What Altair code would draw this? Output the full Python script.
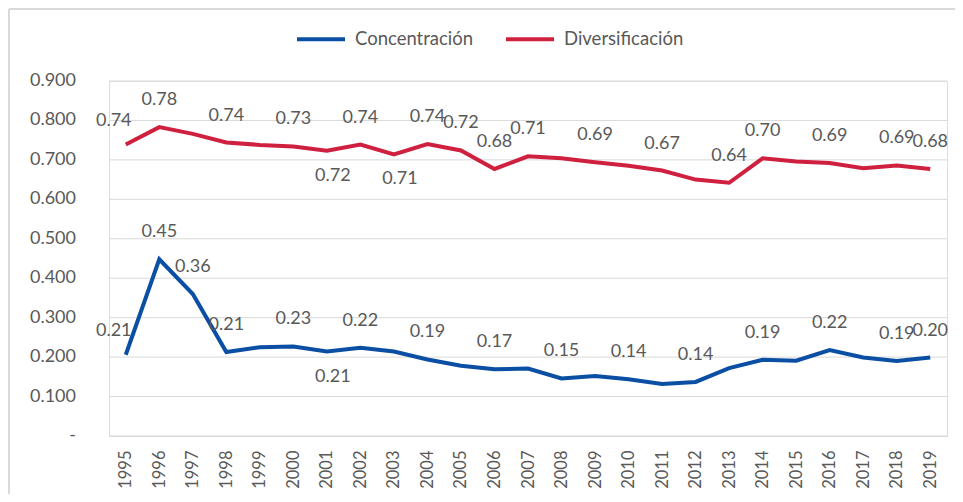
import altair as alt
import pandas as pd

years = ["1995", "1996", "1997", "1998", "1999", "2000", "2001", "2002", "2003",
         "2004", "2005", "2006", "2007", "2008", "2009", "2010", "2011", "2012",
         "2013", "2014", "2015", "2016", "2017", "2018", "2019"]
concentracion = [0.206, 0.448, 0.360, 0.213, 0.225, 0.227, 0.214, 0.224, 0.214,
                 0.194, 0.178, 0.169, 0.171, 0.146, 0.152, 0.144, 0.132, 0.137,
                 0.172, 0.193, 0.191, 0.218, 0.199, 0.190, 0.199]
diversificacion = [0.739, 0.783, 0.766, 0.744, 0.738, 0.734, 0.723, 0.739, 0.714,
                   0.740, 0.724, 0.677, 0.709, 0.704, 0.694, 0.685, 0.673, 0.650,
                   0.642, 0.704, 0.696, 0.692, 0.679, 0.686, 0.677]
y_ticks = [0, 0.1, 0.2, 0.3, 0.4, 0.5, 0.6, 0.7, 0.8, 0.9]

series_names = ["Concentración", "Diversificación"]
series_colors = ["#0A4FA3", "#D0203F"]

# years whose data label is shown, grouped by label placement
conc_above = ["1996", "1997", "1998", "2000", "2002", "2004", "2006", "2008",
              "2010", "2012", "2014", "2016", "2018", "2019"]
conc_below = ["2001"]
conc_left = ["1995"]
div_above = ["1996", "1998", "2000", "2002", "2004", "2005", "2006", "2007",
             "2009", "2011", "2013", "2014", "2016", "2018", "2019"]
div_below = ["2001", "2003"]
div_left = ["1995"]

rows = []
for y, c, d in zip(years, concentracion, diversificacion):
    rows.append({"year": y, "series": series_names[0], "value": c})
    rows.append({"year": y, "series": series_names[1], "value": d})
df = pd.DataFrame(rows)


def placement(row):
    if row["series"] == series_names[0]:
        groups = (conc_above, conc_below, conc_left)
    else:
        groups = (div_above, div_below, div_left)
    if row["year"] in groups[0]:
        return "above"
    if row["year"] in groups[1]:
        return "below"
    if row["year"] in groups[2]:
        return "left"
    return "none"


df["pos"] = df.apply(placement, axis=1)
ticks_df = pd.DataFrame({"v": y_ticks})

FONT = "Lato"
GRAY = "#595959"
GRID = "#D9D9D9"
PLOT_W = 838
PLOT_H = 355

x_axis = alt.Axis(title=None, labelAngle=-90, labelAlign="right",
                  labelBaseline="middle", labelPadding=14, ticks=False,
                  domainColor=GRID, labelFont=FONT, labelFontSize=16.5,
                  labelColor=GRAY, labelOverlap=False, grid=False)
x_scale = alt.Scale(type="point", padding=0.5)
y_scale = alt.Scale(domain=[0, 0.9], nice=False)

grid = alt.Chart(ticks_df).mark_rule(color=GRID, strokeWidth=1).encode(
    y=alt.Y("v:Q", scale=y_scale, axis=None),
    x=alt.value(0), x2=alt.value(PLOT_W))

ylabels = alt.Chart(ticks_df).transform_calculate(
    lab="datum.v == 0 ? '-' : format(datum.v, '.3f')"
).mark_text(align="right", baseline="middle", font=FONT, fontSize=18,
            color=GRAY).encode(
    y=alt.Y("v:Q", scale=y_scale, axis=None),
    x=alt.value(-33),
    text="lab:N")

lines = alt.Chart(df).mark_line(strokeWidth=4).encode(
    x=alt.X("year:O", sort=years, scale=x_scale, axis=x_axis),
    y=alt.Y("value:Q", scale=y_scale, axis=None),
    color=alt.Color("series:N", sort=series_names,
                    scale=alt.Scale(domain=series_names, range=series_colors),
                    legend=alt.Legend(title=None, orient="none", direction="horizontal",
                                      legendX=186, legendY=-68, symbolType="stroke",
                                      symbolSize=2304, symbolStrokeWidth=4,
                                      labelFont=FONT, labelFontSize=18.5,
                                      labelColor=GRAY, columnPadding=24,
                                      labelOffset=8, padding=0)),
)

base_text = alt.Chart(df).encode(
    x=alt.X("year:O", sort=years, scale=x_scale, axis=x_axis),
    y=alt.Y("value:Q", scale=y_scale, axis=None),
    text=alt.Text("value:Q", format=".2f"),
)

above = base_text.transform_filter(alt.datum.pos == "above").mark_text(
    dy=-27, font=FONT, fontSize=18, color=GRAY, baseline="middle")
below = base_text.transform_filter(alt.datum.pos == "below").mark_text(
    dy=25, dx=6, font=FONT, fontSize=18, color=GRAY, baseline="middle")
left = base_text.transform_filter(alt.datum.pos == "left").mark_text(
    dy=-24, dx=-12, font=FONT, fontSize=18, color=GRAY, baseline="middle")

frame = alt.Chart(df).mark_rect(fill=None, stroke=GRID, strokeWidth=1).encode(
    x=alt.value(-100), x2=alt.value(1000), y=alt.value(-72), y2=alt.value(700))

chart = alt.layer(frame, grid, ylabels, lines, above, below, left).properties(
    width=PLOT_W, height=PLOT_H,
    autosize=alt.AutoSizeParams(type="none"),
    padding={"left": 101, "top": 73, "right": 8, "bottom": 58},
).configure_view(stroke=None).configure(background="white")

chart.save("out.html", embed_options={"renderer": "svg", "actions": False})
